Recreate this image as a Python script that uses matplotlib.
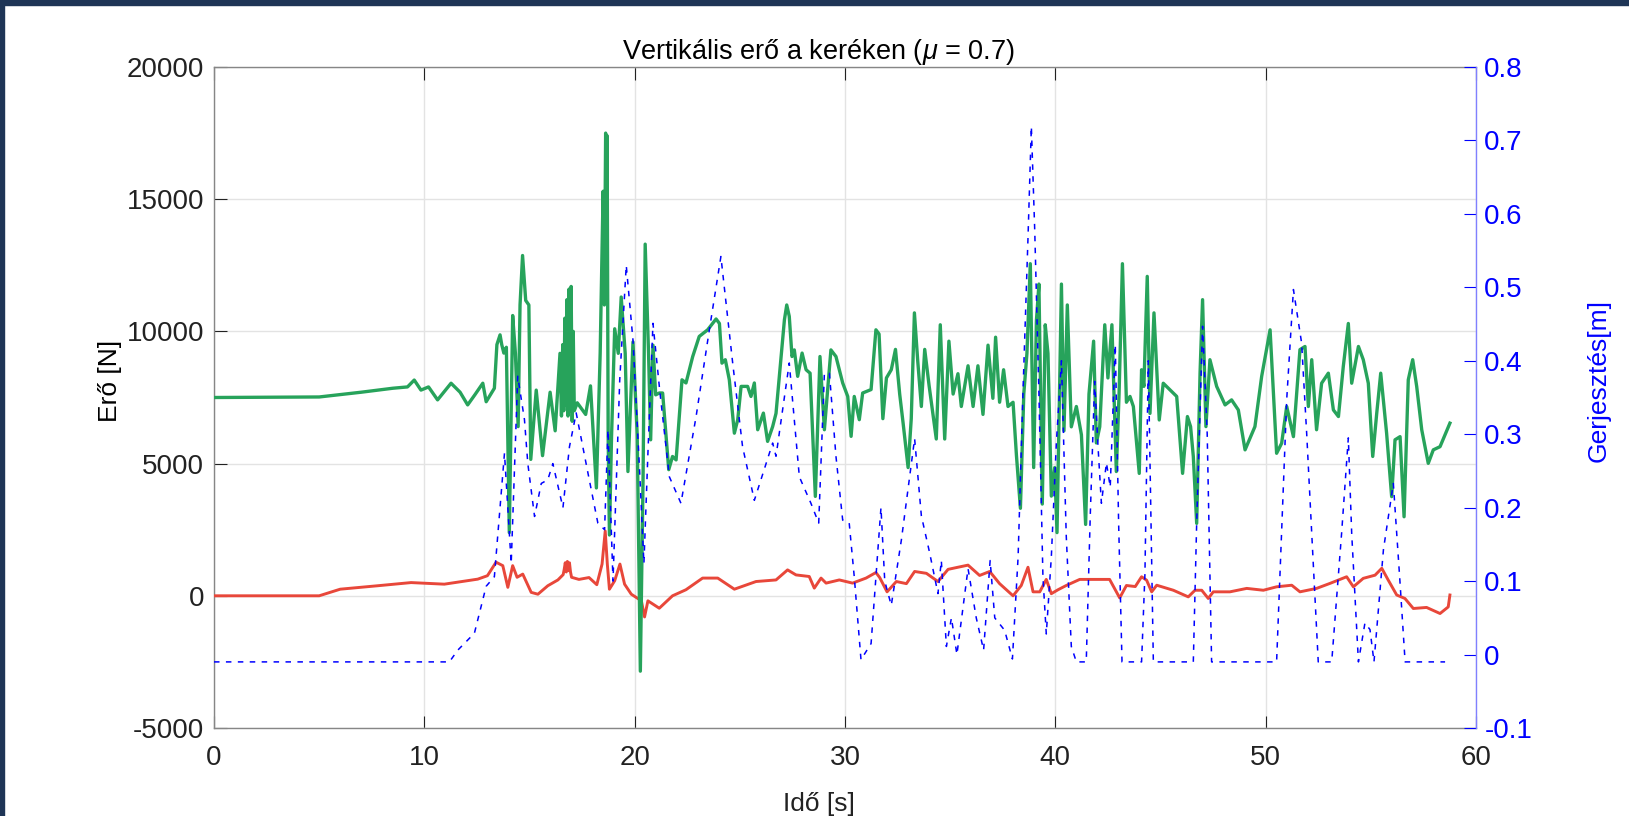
import numpy as np
import matplotlib
matplotlib.use("Agg")
import matplotlib.pyplot as plt
from matplotlib.patches import Rectangle

plt.rcParams['font.family'] = ['Liberation Sans', 'DejaVu Sans']
plt.rcParams['mathtext.fontset'] = 'custom'
plt.rcParams['mathtext.it'] = 'Liberation Sans:italic'
plt.rcParams['mathtext.rm'] = 'Liberation Sans'
plt.rcParams['axes.unicode_minus'] = False

# vertical force on the wheel [s, N]
green_t = [0, 5, 7, 7.78, 8.5, 9.2, 9.52, 9.84, 10.2, 10.63, 11.27, 11.7, 12.06, 12.4, 12.78,
           12.94, 13.33, 13.45, 13.6, 13.68, 13.78, 13.9, 14.04, 14.2, 14.33, 14.46, 14.55, 14.67,
           14.82, 14.97, 15.06, 15.32, 15.62, 15.98, 16.22, 16.45, 16.52, 16.58, 16.63, 16.68,
           16.73, 16.78, 16.83, 16.88, 16.93, 16.98, 17.03, 17.08, 17.13, 17.27, 17.67, 17.9,
           18.18, 18.36, 18.5, 18.56, 18.62, 18.66, 18.69, 18.74, 18.8, 18.9, 19.05, 19.22, 19.36,
           19.55, 19.68, 19.92, 20.12, 20.27, 20.4, 20.5, 20.66, 20.76, 20.87, 21.0, 21.17, 21.33,
           21.62, 21.8, 21.97, 22.25, 22.44, 22.76, 23.07, 23.47, 23.87, 24.03, 24.15, 24.31, 24.5,
           24.74, 24.9, 25.06, 25.37, 25.53, 25.69, 25.85, 26.12, 26.32, 26.56, 26.72, 26.96,
           27.12, 27.23, 27.35, 27.48, 27.59, 27.75, 27.96, 28.15, 28.34, 28.59, 28.81, 29.02,
           29.33, 29.57, 29.89, 30.13, 30.29, 30.44, 30.68, 30.84, 31.24, 31.47, 31.62, 31.8,
           31.97, 32.2, 32.4, 32.6, 32.76, 33.0, 33.15, 33.3, 33.46, 33.63, 33.79, 34.0, 34.18,
           34.34, 34.53, 34.74, 34.94, 35.14, 35.37, 35.53, 35.85, 36.09, 36.32, 36.56, 36.8,
           37.03, 37.16, 37.35, 37.54, 37.75, 37.99, 38.15, 38.34, 38.5, 38.65, 38.81, 38.97,
           39.1, 39.22, 39.38, 39.52, 39.65, 39.81, 39.97, 40.08, 40.29, 40.41, 40.57, 40.76,
           41.0, 41.24, 41.44, 41.6, 41.82, 41.95, 42.11, 42.35, 42.5, 42.69, 42.9, 43.03, 43.19,
           43.38, 43.55, 43.71, 43.99, 44.1, 44.21, 44.37, 44.5, 44.69, 44.94, 45.13, 45.45,
           45.77, 46.05, 46.28, 46.43, 46.56, 46.72, 46.88, 47.0, 47.16, 47.35, 47.67, 48.07,
           48.38, 48.7, 49.02, 49.49, 49.81, 50.21, 50.52, 50.76, 51.0, 51.32, 51.63, 51.87,
           52.03, 52.19, 52.42, 52.66, 52.98, 53.22, 53.46, 53.69, 53.93, 54.09, 54.41, 54.64,
           54.88, 55.09, 55.28, 55.47, 55.75, 55.99, 56.15, 56.39, 56.58, 56.78, 56.99, 57.18,
           57.42, 57.73, 57.97, 58.29, 58.76]
green_f = [7500, 7520, 7700, 7780, 7850, 7900, 8160, 7780, 7900, 7410, 8040, 7700, 7220, 7600, 8040,
           7340, 7850, 9500, 9870, 9500, 9180, 9400, 2390, 10600, 9170, 6400, 11000, 12870,
           11170, 11000, 5160, 7780, 5300, 7700, 6240, 9170, 6800, 9500, 7000, 10500,
           7200, 11200, 6800, 11600, 7000, 11700, 6600, 10000, 7000, 7300, 6860, 7940,
           4080, 9170, 15300, 11000, 17500, 14000, 17400, 6000, 2300, 6000, 10100, 9170, 11300,
           9170, 4700, 9600, 6100, -2850, 4500, 13300, 9170, 5900, 9480, 7600, 7670, 7670,
           4770, 5270, 5140, 8170, 8050, 9050, 9810, 10060, 10470, 10300, 8800, 8930, 8170,
           6150, 6660, 7920, 7920, 7540, 8050, 6280, 6910, 5840, 6400, 6900, 9050,
           10440, 11000, 10570, 9050, 9300, 8300, 9180, 8550, 8420, 3760, 9050, 6280,
           9300, 9050, 8050, 7540, 6030, 7540, 6660, 7670, 7800, 10060, 9900, 6700,
           8240, 8550, 9320, 7630, 6550, 4850, 6700, 10700, 8860, 7160, 9320, 7940, 6860,
           5930, 10250, 5930, 9630, 7630, 8400, 7160, 8700, 7160, 8700, 6860, 9480,
           7470, 9780, 7320, 8550, 7160, 7320, 5320, 3310, 7630, 9170, 12560, 4850,
           10400, 11790, 3470, 10250, 9170, 3770, 4850, 2390, 11790, 6240, 11000, 6390,
           7160, 6090, 2700, 7630, 9630, 5780, 6390, 10250, 8240, 10250, 4700, 7630, 12560,
           7320, 7540, 7160, 4630, 8550, 7920, 12080, 6900, 10700, 6650, 8040, 7790,
           7540, 4630, 6780, 6400, 5270, 2740, 8420, 11200, 6400, 8930, 7920, 7220,
           7410, 7030, 5520, 6400, 8300, 10060, 5390, 5770, 7160, 6020, 9310, 9430,
           7160, 8930, 6280, 8040, 8420, 7030, 6780, 8670, 10300, 8040, 9430, 8930,
           8040, 5270, 6900, 8420, 6150, 3750, 5900, 6020, 2990, 8170, 8930, 7920,
           6280, 5010, 5520, 5640, 6530]

# second force trace [s, N]
red_t = [0, 5, 6, 7.78, 9.37, 10.95, 12.54, 13.0, 13.41, 13.73, 13.97, 14.2, 14.41, 14.68, 15.08,
         15.4, 15.87, 16.35, 16.6, 16.65, 16.7, 16.75, 16.8, 16.85, 16.9, 16.95, 17.0, 17.35,
         17.83, 18.2, 18.45, 18.6, 18.7, 18.8, 19.05, 19.3, 19.52, 19.84, 20.32, 20.47, 20.63,
         21.17, 21.8, 22.44, 23.23, 23.95, 24.74, 25.77, 26.72, 27.27, 27.67, 28.3, 28.54, 28.86,
         29.1, 29.73, 30.36, 31.0, 31.47, 31.65, 32.0, 32.44, 32.92, 33.31, 33.87, 34.42, 34.9,
         35.37, 35.85, 36.4, 36.88, 37.35, 37.99, 38.38, 38.7, 38.94, 39.26, 39.57, 39.81, 40.13,
         40.52, 41.16, 41.79, 42.58, 43.06, 43.38, 43.8, 44.1, 44.34, 44.58, 44.82, 45.61, 46.32,
         46.64, 46.96, 47.27, 47.51, 48.3, 49.1, 49.89, 50.52, 51.24, 51.63, 52.42, 53.06, 53.85,
         54.17, 54.64, 55.2, 55.52, 55.83, 56.23, 56.62, 57.02, 57.65, 58.29, 58.68, 58.76]
red_f = [0, 0, 250, 380, 500, 440, 630, 760, 1270, 1140, 320, 1140, 700, 820, 130,
         60, 380, 600, 800, 1000, 1250, 900, 1300, 950, 1250, 900, 700, 620,
         690, 420, 1200, 2450, 1200, 250, 570, 1200, 440, 60, -190, -800, -190,
         -470, 0, 230, 670, 670, 250, 540, 600, 980, 790, 730, 290, 670,
         480, 600, 480, 670, 880, 690, 150, 540, 460, 920, 850, 540, 1000,
         1080, 1160, 770, 920, 460, 0, 390, 1080, 150, 150, 620, 80, 230,
         390, 620, 620, 620, -80, 390, 350, 720, 590, 150, 400, 210, -40,
         210, 210, -100, 150, 150, 280, 210, 340, 400, 150, 280, 470, 720,
         340, 660, 780, 1040, 590, 30, -100, -480, -440, -670, -420, 30]

# road excitation [s, m]
blue_t = [0, 11.19, 11.59, 12.38, 12.94, 13.33, 13.81, 14.13, 14.44, 14.76, 14.92, 15.24, 15.56,
          15.87, 16.11, 16.59, 16.9, 17.22, 17.78, 18.25, 18.57, 18.73, 18.97, 19.29, 19.6,
          19.92, 20.24, 20.44, 20.63, 20.87, 21.19, 21.65, 22.2, 22.92, 23.55, 24.1, 24.66,
          25.13, 25.69, 26.56, 26.72, 27.35, 27.83, 28.38, 28.75, 29.02, 29.26, 29.57, 29.89,
          30.2, 30.44, 30.76, 31.24, 31.71, 31.89, 32.2, 32.68, 33.31, 33.63, 34.02, 34.42,
          34.58, 34.82, 35.06, 35.32, 35.85, 36.24, 36.59, 36.9, 37.12, 37.59, 37.96, 38.23,
          38.46, 38.7, 38.86, 39.02, 39.22, 39.41, 39.57, 39.81, 40.05, 40.29, 40.52, 40.76,
          41.0, 41.47, 41.66, 41.87, 42.03, 42.19, 42.43, 42.61, 42.85, 43.01, 43.17, 44.1,
          44.26, 44.42, 44.66, 46.56, 46.72, 47.0, 47.22, 47.43, 50.52, 51.0, 51.32, 51.71,
          51.95, 52.19, 52.5, 53.14, 53.61, 53.93, 54.09, 54.41, 54.72, 54.96, 55.15, 55.6,
          56.07, 56.39, 56.63, 58.53]
blue_g = [-0.01, -0.01, 0.006, 0.029, 0.093, 0.106, 0.274, 0.124, 0.379, 0.32, 0.26, 0.188, 0.233,
          0.238, 0.26, 0.2, 0.283, 0.329, 0.247, 0.179, 0.17, 0.306, 0.1, 0.374, 0.53,
          0.428, 0.247, 0.124, 0.274, 0.451, 0.36, 0.242, 0.206, 0.324, 0.442, 0.542, 0.397,
          0.283, 0.21, 0.288, 0.27, 0.397, 0.242, 0.206, 0.179, 0.383, 0.383, 0.27, 0.183,
          0.179, 0.106, -0.007, 0.015, 0.2, 0.1, 0.067, 0.156, 0.294, 0.189, 0.139, 0.083,
          0.128, 0.011, 0.05, 0.0, 0.117, 0.05, 0.006, 0.128, 0.05, 0.033, -0.006, 0.133,
          0.356, 0.567, 0.719, 0.578, 0.356, 0.106, 0.028, 0.133, 0.289, 0.4, 0.161, 0.011,
          -0.01, -0.01, 0.189, 0.372, 0.283, 0.206, 0.261, 0.228, 0.422, 0.178, -0.01, -0.01,
          0.11, 0.4, -0.01, -0.01, 0.179, 0.447, 0.301, -0.01, -0.01, 0.347, 0.497, 0.424,
          0.301, 0.165, -0.01, -0.01, 0.165, 0.295, 0.165, -0.01, 0.043, 0.034, -0.01, 0.143,
          0.233, 0.097, -0.01, -0.01]

x_ticks = [0, 10, 20, 30, 40, 50, 60]
f_ticks = [-5000, 0, 5000, 10000, 15000, 20000]
g_ticks = [-0.1, 0, 0.1, 0.2, 0.3, 0.4, 0.5, 0.6, 0.7, 0.8]

fig = plt.figure(figsize=(16.29, 8.16), dpi=100)
fig.patch.set_facecolor('white')
# dark frame strips along top and left edge
fig.patches.append(Rectangle((0, 1 - 5 / 816), 1, 5 / 816, transform=fig.transFigure,
                             color='#1e3556', zorder=0))
fig.patches.append(Rectangle((0, 0), 4 / 1629, 1, transform=fig.transFigure,
                             color='#1e3556', zorder=0))

ax = fig.add_axes([214 / 1629, 1 - 728 / 816, (1476 - 214) / 1629, (728 - 67) / 816])
ax2 = ax.twinx()

ax.plot(red_t, red_f, color='#e8473a', lw=2.1, zorder=3)
ax.plot(green_t, green_f, color='#27a35b', lw=2.4, zorder=4)
ax2.plot(blue_t, blue_g, color='#0000ff', lw=1.1, dashes=(3.6, 4.2))

ax.set_xlim(0, 60)
ax.set_ylim(-5000, 20000)
ax2.set_ylim(-0.1, 0.8)
ax.set_xticks(x_ticks)
ax.set_yticks(f_ticks)
ax2.set_yticks(g_ticks)
ax2.set_yticklabels([f"{v:g}" for v in g_ticks])

ax.grid(True, color='#e3e3e3', lw=1.0)
ax.set_axisbelow(True)

for s in ['left', 'bottom', 'top']:
    ax.spines[s].set_color('#868686')
    ax.spines[s].set_linewidth(1.0)
ax.spines['right'].set_visible(False)
for s in ['left', 'bottom', 'top']:
    ax2.spines[s].set_visible(False)
ax2.spines['right'].set_color('#8080ff')
ax2.spines['right'].set_linewidth(1.0)

ax.tick_params(axis='both', direction='in', length=9, width=0.8, colors='#222222',
               labelsize=20, top=True, right=False)
ax.tick_params(axis='x', pad=12)
ax.tick_params(axis='y', pad=7)
ax2.tick_params(axis='y', direction='in', length=9, width=0.8, colors='#0000ff',
                labelsize=20, pad=6)

ax.set_xlabel('Idő [s]', fontsize=19, color='#222222')
ax.xaxis.set_label_coords(0.479, -0.097)
ax.set_ylabel('Erő [N]', fontsize=19, color='black')
ax.yaxis.set_label_coords(-0.073, 0.525)
ax2.set_ylabel('Gerjesztés[m]', fontsize=19, color='#0000ff')
ax2.yaxis.set_label_coords(1.088, 0.525)
ax.set_title(r'Vertikális erő a keréken ($\mu$ = 0.7)', fontsize=19.5, pad=4, x=0.479)

fig.savefig('out.png', dpi=100)
